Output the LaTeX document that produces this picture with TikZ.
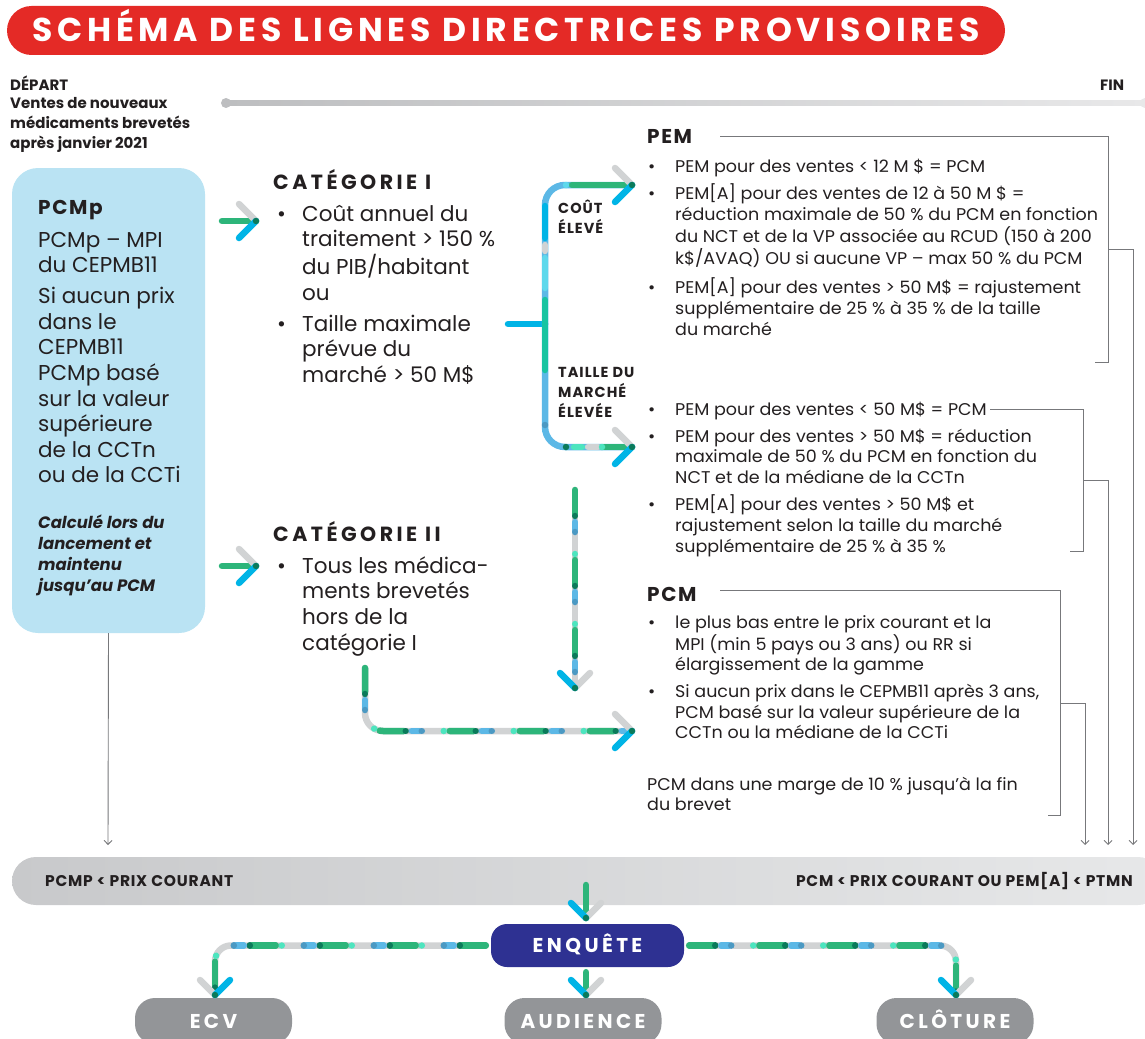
\documentclass[tikz,border=0pt]{standalone}
\usepackage{fontspec}
\setmainfont{Poppins}
\newfontfamily\bodyf[FakeStretch=1.03]{Poppins}
\newfontfamily\titlef[LetterSpace=14.5]{Poppins}
\newfontfamily\hdf[LetterSpace=17]{Poppins}
\newfontfamily\pcf[LetterSpace=8]{Poppins}
\newfontfamily\smf[LetterSpace=7]{Poppins}
\newfontfamily\barf[LetterSpace=5]{Poppins}
\newfontfamily\nodef[LetterSpace=17]{Poppins}
\usetikzlibrary{arrows.meta,calc}

\definecolor{ink}{HTML}{231F20}
\definecolor{lgray}{HTML}{77787B}
\definecolor{mgray}{HTML}{D1D3D4}
\definecolor{mgreen}{HTML}{2DB57A}
\definecolor{mdkgreen}{HTML}{0B7A5A}
\definecolor{mmint}{HTML}{4DE5BF}
\definecolor{mteal}{HTML}{17C4A2}
\definecolor{mcyan}{HTML}{00B4E6}
\definecolor{mlcyan}{HTML}{5ED8EC}
\definecolor{mlblue}{HTML}{5CB8E6}
\definecolor{msteel}{HTML}{4B99C3}
\definecolor{mbright}{HTML}{12D46A}
\definecolor{tred}{HTML}{E42A26}
\definecolor{pcmpblue}{HTML}{BAE3F3}
\definecolor{navy}{HTML}{2E3192}
\definecolor{ngray}{HTML}{939598}
\definecolor{barL}{HTML}{C8C9CB}
\definecolor{barR}{HTML}{E7E8E9}
\definecolor{tlL}{HTML}{BDBEC0}
\definecolor{tlR}{HTML}{E8E8E9}

\tikzset{
  ml/.style={line width=6.5pt, line cap=round},
  txt/.style={inner sep=0pt, anchor=base west, text=ink},
  body/.style={txt, font=\bodyf\fontsize{17}{20.6}\selectfont},
  thinl/.style={draw=lgray, line width=0.9pt},
  thinar/.style={thinl, -{Straight Barb[length=4pt,width=8pt,line width=0.9pt]}},
  chevR/.pic={\draw[ml,mgray] (-17,-17) -- (0,0); \draw[ml,mcyan] (-17,17) -- (0,0); \fill[mdkgreen] (0,0) circle (3.2pt);},
  chevD/.pic={\draw[ml,mgray] (15,-15) -- (0,0); \draw[ml,mcyan] (-15,-15) -- (0,0); \fill[mdkgreen] (0,0) circle (3.2pt);},
  chevDm/.pic={\draw[ml,mgray] (-15,-15) -- (0,0); \draw[ml,mcyan] (15,-15) -- (0,0); \fill[mdkgreen] (0,0) circle (3.2pt);},
  gnode/.style={fill=ngray, rounded corners=20pt, minimum width=157pt, minimum height=46pt, inner sep=0pt,
     text=white, font=\nodef\bfseries\fontsize{20}{20}\selectfont, text height=14pt, text depth=0pt},
}
\newcommand\metro[2][]{%
  \draw[ml,mgray,#1] #2;
  \draw[ml,mgreen,#1,dash pattern=on 24pt off 46pt] #2;
  \draw[ml,mdkgreen,#1,dash pattern=on 0.01pt off 69.99pt, dash phase=44pt] #2;
  \draw[ml,mlblue,#1,dash pattern=on 8pt off 62pt, dash phase=38pt] #2;
  \draw[ml,msteel,#1,dash pattern=on 0.01pt off 69.99pt, dash phase=28pt] #2;
  \draw[ml,mmint,#1,dash pattern=on 0.01pt off 69.99pt, dash phase=6pt] #2;
}

\begin{document}
\begin{tikzpicture}[x=1pt,y=-1pt]
\useasboundingbox (0,0) rectangle (1145,1038);

% title
\node[fill=tred, rounded corners=24.5pt, minimum width=998pt, minimum height=49pt, inner sep=0pt,
      text=white, font=\titlef\bfseries\fontsize{33}{33}\selectfont, text height=23pt, text depth=0pt]
      (title) at (506,30.5) {SCHÉMA DES LIGNES DIRECTRICES PROVISOIRES};

% timeline
\node[txt, font=\bfseries\fontsize{15}{20}\selectfont] (depart) at (10,91) {DÉPART};
\node[txt, font=\bfseries\fontsize{15}{20}\selectfont] (ventes) at (10,109)
  {\begin{tabular}[t]{@{}l@{}}Ventes de nouveaux\\médicaments brevetés\\après janvier 2021\end{tabular}};
\node[txt, font=\bfseries\fontsize{15}{20}\selectfont] (fin) at (1100,91) {FIN};
\shade[left color=tlL, right color=tlR] (226,100.5) rectangle (1145,105.5);
\fill[tlL] (226,103) circle (5pt);
\fill[tlR] (1145,103) circle (5pt);

% PCMp box
\node[fill=pcmpblue, rounded corners=26pt, minimum width=193pt, minimum height=465pt, inner sep=0pt] (pcmp) at (108.5,400.5) {};
\node[txt, font=\pcf\bfseries\fontsize{20}{20}\selectfont] (pcmph) at (38,214) {PCMp};
\node[txt, font=\fontsize{21.5}{25.6}\selectfont] (pcmpb) at (38,247)
  {\begin{tabular}[t]{@{}l@{}}PCMp – MPI\\du CEPMB11\\[5.4pt]Si aucun prix\\dans le\\CEPMB11\\PCMp basé\\sur la valeur\\supérieure\\de la CCTn\\ou de la CCTi\end{tabular}};
\node[txt, font=\bfseries\itshape\fontsize{16.5}{21.3}\selectfont] (pcmpi) at (38,528)
  {\begin{tabular}[t]{@{}l@{}}Calculé lors du\\lancement et\\maintenu\\jusqu’au PCM\end{tabular}};

% categories
\node[txt, font=\hdf\bfseries\fontsize{20.5}{20}\selectfont] (cat1h) at (273,189) {CATÉGORIE I};
\node[txt, font=\fontsize{21.5}{25.7}\selectfont] (cat1b) at (277,221)
  {\begin{tabular}[t]{@{}p{25pt}@{}l@{}}\textbullet & Coût annuel du\\ & traitement > 150 \%\\ & du PIB/habitant\\ & ou\\[5pt]
   \textbullet & Taille maximale\\ & prévue du\\ & marché > 50 M\$\end{tabular}};
\node[txt, font=\hdf\bfseries\fontsize{20.5}{20}\selectfont] (cat2h) at (273,541) {CATÉGORIE II};
\node[txt, font=\fontsize{21.5}{25.7}\selectfont] (cat2b) at (277,573)
  {\begin{tabular}[t]{@{}p{25pt}@{}l@{}}\textbullet & Tous les médica-\\ & ments brevetés\\ & hors de la\\ & catégorie I\end{tabular}};

% small arrows to categories
\coordinate (c1s) at (222,221); \coordinate (c1t) at (256,221);
\draw[ml,mgreen] (c1s) -- (c1t); \pic at (c1t) {chevR};
\coordinate (c2s) at (222,566); \coordinate (c2t) at (256,566);
\draw[ml,mgreen] (c2s) -- (c2t); \pic at (c2t) {chevR};

% branch labels
\node[txt, font=\smf\bfseries\fontsize{14.5}{20}\selectfont] (cout) at (558,213)
  {\begin{tabular}[t]{@{}l@{}}COÛT\\ÉLEVÉ\end{tabular}};
\node[txt, font=\smf\bfseries\fontsize{14.5}{19.5}\selectfont] (taille) at (558,377)
  {\begin{tabular}[t]{@{}l@{}}TAILLE DU\\MARCHÉ\\ÉLEVÉE\end{tabular}};

% branch connector
\coordinate (bs) at (508,324); \coordinate (bj) at (545,324);
\coordinate (bt1) at (632,185); \coordinate (bt2) at (632,447);
\draw[ml,mcyan] (bs) -- (bj);
\draw[ml,mlblue,rounded corners=20pt] (bj) |- (bt1);
\draw[ml,mlblue,rounded corners=20pt] (bj) |- (bt2);
\draw[ml,mcyan] (545,206) -- (545,238);
\draw[ml,mgray] (545,245) -- (545,251);
\draw[ml,mlcyan] (545,258) -- (545,288);
\draw[ml,mteal] (545,300) -- (545,370);
\draw[ml,mgreen] (572,185) -- (bt1);
\fill[mlcyan] (566,185) circle (3.25pt);
\fill[msteel] (545,425) circle (3.25pt);
\draw[ml,mgreen] (604,447) -- (bt2);
\draw[ml,mgray] (588,447) -- (598,447);
\draw[ml,mmint] (574,447) -- (582,447);
\fill[mdkgreen] (566,447) circle (3.25pt);
\fill[mmint] (602,447) circle (3.25pt);
\pic at (bt1) {chevR};
\pic at (bt2) {chevR};

% PEM section
\node[txt, font=\pcf\bfseries\fontsize{20}{20}\selectfont] (pemh) at (647,143) {PEM};
\node[body] (pemb) at (648,172)
  {\begin{tabular}[t]{@{}p{27pt}@{}l@{}}\textbullet & PEM pour des ventes < 12 M \$ = PCM\\[5.5pt]
   \textbullet & PEM[A] pour des ventes de 12 à 50 M \$ =\\
   & réduction maximale de 50 \% du PCM en fonction\\
   & du NCT et de la VP associée au RCUD (150 à 200\\
   & k\$/AVAQ) OU si aucune VP – max 50 \% du PCM\\[7.5pt]
   \textbullet & PEM[A] pour des ventes > 50 M\$ = rajustement\\
   & supplémentaire de 25 \% à 35 \% de la taille\\
   & du marché\end{tabular}};
\node[body] (tailb) at (648,415)
  {\begin{tabular}[t]{@{}p{27pt}@{}l@{}}\textbullet & PEM pour des ventes < 50 M\$ = PCM\\[6.5pt]
   \textbullet & PEM pour des ventes > 50 M\$ = réduction\\
   & maximale de 50 \% du PCM en fonction du\\
   & NCT et de la médiane de la CCTn\\[5.5pt]
   \textbullet & PEM[A] pour des ventes > 50 M\$ et\\
   & rajustement selon la taille du marché\\
   & supplémentaire de 25 \% à 35 \%\end{tabular}};

% PCM section
\node[txt, font=\pcf\bfseries\fontsize{20}{20}\selectfont] (pcmh) at (647,601) {PCM};
\node[body, font=\bodyf\fontsize{17}{20.8}\selectfont] (pcmb) at (648,628)
  {\begin{tabular}[t]{@{}p{27pt}@{}l@{}}\textbullet & le plus bas entre le prix courant et la\\
   & MPI (min 5 pays ou 3 ans) ou RR si\\
   & élargissement de la gamme\\[5.5pt]
   \textbullet & Si aucun prix dans le CEPMB11 après 3 ans,\\
   & PCM basé sur la valeur supérieure de la\\
   & CCTn ou la médiane de la CCTi\end{tabular}};
\node[body, font=\bodyf\fontsize{17}{20.8}\selectfont] (pcmm) at (647,790)
  {\begin{tabular}[t]{@{}l@{}}PCM dans une marge de 10 \% jusqu’à la fin\\du brevet\end{tabular}};

% vertical dashed and category II connector
\coordinate (v1) at (575,490); \coordinate (v2) at (575,688);
\metro{(v1) -- (v2)}
\pic at (v2) {chevD};
\coordinate (k1) at (365,668); \coordinate (k2) at (632,731);
\metro[rounded corners=18pt]{(k1) |- (k2)}
\pic at (k2) {chevR};

% bottom bar
\node[left color=barL, right color=barR, rounded corners=24pt, minimum width=1150pt, minimum height=48pt, inner sep=0pt] (bar) at (587,881) {};
\node[txt, font=\barf\bfseries\fontsize{15.5}{15}\selectfont] (barl) at (45,886.5) {PCMP < PRIX COURANT};
\node[txt, anchor=base east, font=\barf\bfseries\fontsize{15.5}{15}\selectfont] (barr) at (1133,886.5) {PCM < PRIX COURANT OU PEM[A] < PTMN};

% thin connectors
\coordinate (a1) at (108,845); \coordinate (a2) at (1085,845);
\coordinate (a3) at (1108,845); \coordinate (a4) at (1133,845);
\draw[thinar] (pcmp.south) -- (a1);
\coordinate (p1) at (720,136); \coordinate (p2) at (1108,136); \coordinate (p3) at (1108,362); \coordinate (p4) at (1095,362);
\draw[thinl] (p1) -- (p2) -- (p3) -- (p4);
\coordinate (pm) at (1108,249);
\draw[thinar] (pm) -| (a4);
\coordinate (q1) at (990,409); \coordinate (q2) at (1083,409); \coordinate (q3) at (1083,551); \coordinate (q4) at (1070,551);
\draw[thinl] (q1) -- (q2) -- (q3) -- (q4);
\coordinate (qm) at (1083,480);
\draw[thinar] (qm) -| (a3);
\coordinate (r1) at (720,590); \coordinate (r2) at (1060,590); \coordinate (r3) at (1060,815); \coordinate (r4) at (1048,815);
\draw[thinl] (r1) -- (r2) -- (r3) -- (r4);
\coordinate (rm) at (1060,703);
\draw[thinar] (rm) -| (a2);

% enquete
\node[fill=navy, rounded corners=16pt, minimum width=193pt, minimum height=43pt, inner sep=0pt,
      text=white, font=\nodef\bfseries\fontsize{20}{20}\selectfont, text height=14pt, text depth=0pt] (enq) at (587.5,945.5) {ENQUÊTE};
\node[gnode] (ecv) at (213.5,1021) {ECV};
\node[gnode] (aud) at (583,1021) {AUDIENCE};
\node[gnode] (clo) at (955,1021) {CLÔTURE};

\coordinate (e0) at (586,885); \coordinate (e1) at (586,918);
\draw[ml,mgreen] (e0) -- (e1); \pic at (e1) {chevD};
\coordinate (eL) at ($(enq.west)+(-5,0)$); \coordinate (eR) at ($(enq.east)+(5,0)$);
\coordinate (eS) at ($(enq.south)+(-1.5,5)$);
\coordinate (ecvT) at (215,995); \coordinate (audT) at (586,995); \coordinate (cloT) at (956,995);
\metro[rounded corners=16pt]{(eL) -| (ecvT)}
\pic at (ecvT) {chevDm};
\metro[rounded corners=16pt]{(eR) -| (cloT)}
\pic at (cloT) {chevD};
\draw[ml,mgreen] (eS) -- (audT); \pic at (audT) {chevD};
\end{tikzpicture}
\end{document}
